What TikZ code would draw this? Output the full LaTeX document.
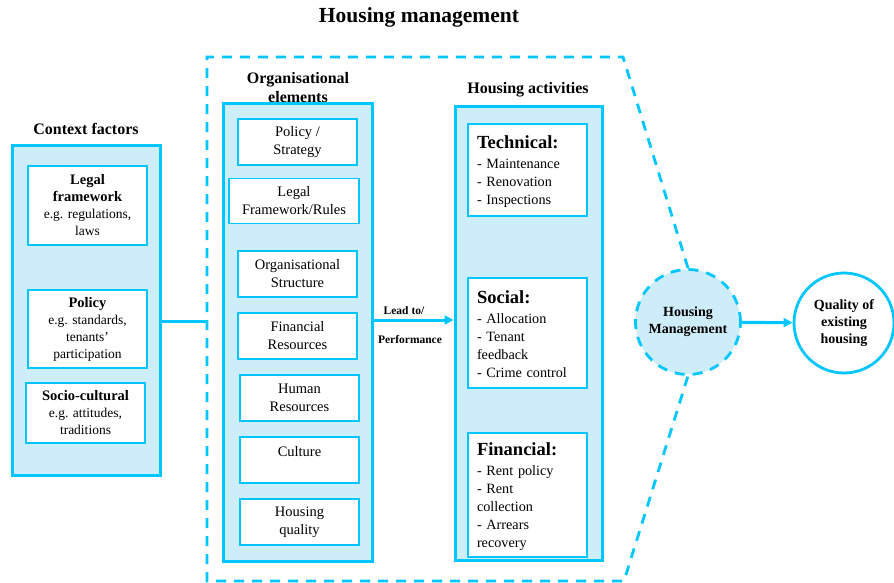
\documentclass[tikz,border=0pt]{standalone}
\usepackage{fontspec}
\setmainfont{Liberation Serif}
\usetikzlibrary{arrows.meta}
\definecolor{hmcyan}{RGB}{0,198,255}
\definecolor{hmfill}{RGB}{206,237,250}
\tikzset{
  outerbox/.style={draw=hmcyan, fill=hmfill, line width=3pt},
  innerbox/.style={draw=hmcyan, fill=white, line width=1.4pt, align=center},
  headtext/.style={font=\fontsize{16}{19}\selectfont\bfseries, align=center},
  ctxtext/.style={font=\fontsize{13.5}{17}\selectfont},
  orgtext/.style={font=\fontsize{14.5}{18}\selectfont},
  acttext/.style={font=\fontsize{14.2}{18}\selectfont, align=left, text width=101pt, inner sep=0pt},
  dashline/.style={draw=hmcyan, line width=2.8pt, dash pattern=on 10pt off 8pt},
  flow/.style={draw=hmcyan, line width=3pt},
  flowarrow/.style={flow, -{Triangle[length=9pt,width=9pt]}}
}
\newcommand{\acthead}[1]{{\fontsize{18.5}{20}\selectfont\bfseries #1}}
\newcommand{\ctxhead}[1]{{\fontsize{14.5}{17}\selectfont\bfseries #1}}
\begin{document}
\begin{tikzpicture}[x=1pt,y=-1pt]
    \useasboundingbox (0,0) rectangle (894,583);
    \node[font=\fontsize{21.5}{24}\selectfont\bfseries] (title) at (419,17) {Housing management};

    % context factors
    \node[headtext] (ctxtitle) at (86,129) {Context factors};
    \node[outerbox, minimum width=148, minimum height=329] (ctx) at (86,310.5) {};
    \node[innerbox, ctxtext, minimum width=119, minimum height=79] (legal) at (87.5,205.5)
        {\ctxhead{Legal}\\\ctxhead{framework}\\e.g. regulations,\\laws};
    \node[innerbox, ctxtext, minimum width=119, minimum height=78] (policy) at (87.5,329)
        {\ctxhead{Policy}\\e.g. standards,\\tenants'\\participation};
    \node[innerbox, ctxtext, minimum width=119, minimum height=60] (socio) at (85.5,413)
        {\ctxhead{Socio-cultural}\\e.g. attitudes,\\traditions};

    % housing management frame
    \node[dashline, circle, fill=hmfill, minimum size=105, font=\fontsize{14}{17}\selectfont\bfseries, align=center] (hm) at (688,322) {Housing\\Management};
    \draw[dashline] (hm.north) -- (623,57) -- (207,57) -- (207,581) -- (624,581) -- (hm.south);
    \coordinate (frameleft) at (207,321);
    \draw[flow] (ctx.east |- frameleft) -- (frameleft);

    % organisational elements
    \node[headtext] (orgtitle) at (298,88) {Organisational\\elements};
    \node[outerbox, minimum width=149, minimum height=457] (org) at (297.5,332.5) {};
    \node[innerbox, orgtext, minimum width=119, minimum height=46] (strategy) at (297.5,142) {Policy /\\Strategy};
    \node[innerbox, orgtext, minimum width=130, minimum height=45] (rules) at (294,201) {Legal\\Framework/Rules};
    \node[innerbox, orgtext, minimum width=119, minimum height=46] (structure) at (297.5,274) {Organisational\\Structure};
    \node[innerbox, orgtext, minimum width=119, minimum height=46] (finres) at (297.5,336) {Financial\\Resources};
    \node[innerbox, orgtext, minimum width=119, minimum height=46] (humres) at (299.5,398) {Human\\Resources};
    \node[innerbox, orgtext, minimum width=119, minimum height=46, text depth=18pt] (culture) at (299.5,460) {Culture};
    \node[innerbox, orgtext, minimum width=119, minimum height=46] (quality) at (299.5,522) {Housing\\quality};

    % housing activities
    \node[headtext] (acttitle) at (528,90) {Housing activities};
    \node[outerbox, minimum width=147, minimum height=453] (act) at (528.5,333.5) {};
    \node[innerbox, minimum width=119, minimum height=92] (technical) at (527.5,170) {};
    \node[acttext] at ([yshift=-1.5]technical.center) {\acthead{Technical:}\\[2pt]- Maintenance\\- Renovation\\- Inspections};
    \node[innerbox, minimum width=119, minimum height=110] (social) at (527.5,333) {};
    \node[acttext] at ([yshift=-1.5]social.center) {\acthead{Social:}\\[2pt]- Allocation\\- Tenant\\feedback\\- Crime control};
    \node[innerbox, minimum width=119, minimum height=124] (financial) at (527.5,495) {};
    \node[acttext] at ([yshift=-1.5]financial.center) {\acthead{Financial:}\\[2pt]- Rent policy\\- Rent\\collection\\- Arrears\\recovery};

    \coordinate (lead) at (413,320);
    \draw[flowarrow] (org.east |- lead) -- (act.west |- lead);
    \node[font=\fontsize{11.5}{13}\selectfont\bfseries] (leadto) at (404,311) {Lead to/};
    \node[font=\fontsize{11.5}{13}\selectfont\bfseries] (perf) at (410,340) {Performance};

    % outcome
    \node[circle, draw=hmcyan, line width=2.8pt, fill=white, minimum size=100, font=\fontsize{14}{17}\selectfont\bfseries, align=center] (qual) at (844,323) {Quality of\\existing\\housing};
    \draw[flowarrow] (hm) -- (qual);
\end{tikzpicture}
\end{document}
